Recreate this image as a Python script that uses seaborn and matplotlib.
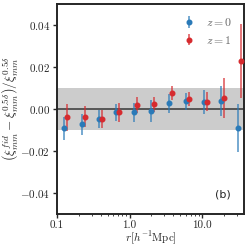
import numpy as np
import seaborn as sns
import matplotlib.pyplot as plt
from matplotlib.colors import to_rgba

# bin centres in r [h^-1 Mpc]
r_z0 = [0.125, 0.218, 0.38, 0.66, 1.15, 2.0, 3.5, 6.1, 10.6, 18.5, 31.6]
r_z1 = [0.137, 0.240, 0.418, 0.726, 1.26, 2.2, 3.85, 6.7, 11.7, 20.3, 34.8]

# relative difference and errors
d_z0 = [-0.0092, -0.0073, -0.0049, -0.0016, -0.0016, -0.0010, 0.0027, 0.0037, 0.0032, 0.0038, -0.0092]
e_z0 = [0.0055, 0.0050, 0.0043, 0.0040, 0.0045, 0.0054, 0.0046, 0.0040, 0.0058, 0.0073, 0.0114]
d_z1 = [-0.0040, -0.0037, -0.0048, -0.0016, 0.0019, 0.0022, 0.0075, 0.0048, 0.0035, 0.0051, 0.0229]
e_z1 = [0.0065, 0.0050, 0.0043, 0.0045, 0.0037, 0.0036, 0.0032, 0.0033, 0.0044, 0.0095, 0.0175]

sns.set_theme(style='ticks')
plt.rcParams['font.family'] = ['serif']
plt.rcParams['font.serif'] = ['cmr10', 'DejaVu Serif']
plt.rcParams['mathtext.fontset'] = 'cm'
plt.rcParams['axes.formatter.use_mathtext'] = True
plt.rcParams['axes.unicode_minus'] = True

fig = plt.figure(figsize=(2.49, 2.49), dpi=100)
ax = fig.add_axes([0.229, 0.141, 0.751, 0.843])

ax.axhspan(-0.01, 0.01, color='0.8', lw=0, zorder=0)
ax.axhline(0, color='0.3', lw=1.3, zorder=1)

blue = '#2a7ab8'
red = '#d62a2e'
ax.errorbar(r_z0, d_z0, yerr=e_z0, fmt='o', color=blue, ms=3.3, elinewidth=1.2,
            ecolor=to_rgba(blue, 0.75), label='$z=0$', zorder=3)
ax.errorbar(r_z1, d_z1, yerr=e_z1, fmt='o', color=red, ms=3.3, elinewidth=1.2,
            ecolor=to_rgba(red, 0.75), label='$z=1$', zorder=3)

ax.set_xscale('log')
ax.set_xlim(0.1, 38)
ax.set_ylim(-0.05, 0.05)
ax.set_xticks([0.1, 1, 10])
ax.set_xticklabels(['0.1', '1.0', '10.0'])
ax.set_yticks([-0.04, -0.02, 0.0, 0.02, 0.04])
ax.set_yticklabels([r'$-0.04$', r'$-0.02$', r'$0.00$', r'$0.02$', r'$0.04$'])
ax.tick_params(labelsize=8, length=3, width=1, colors='0.15', pad=2)
ax.tick_params(which='minor', length=1.5, width=0.6)

for s in ax.spines.values():
    s.set_linewidth(1.4)
    s.set_color('0.15')

ax.set_xlabel(r'$r[h^{-1}{\rm Mpc}]$', fontsize=8, labelpad=0)
ax.set_ylabel(r'$\left(\xi^{fid}_{mm} - \xi^{0.5\delta}_{mm}\right)/\xi^{0.5\delta}_{mm}$',
              fontsize=9.5, labelpad=0)

leg = ax.legend(loc='upper right', fontsize=8.5, frameon=False, handlelength=1.2,
                labelcolor='0.4', borderaxespad=0.6)
ax.text(0.93, 0.07, '(b)', transform=ax.transAxes, ha='right', va='bottom',
        fontsize=8, family='DejaVu Sans')

fig.savefig('out.png', dpi=100)
